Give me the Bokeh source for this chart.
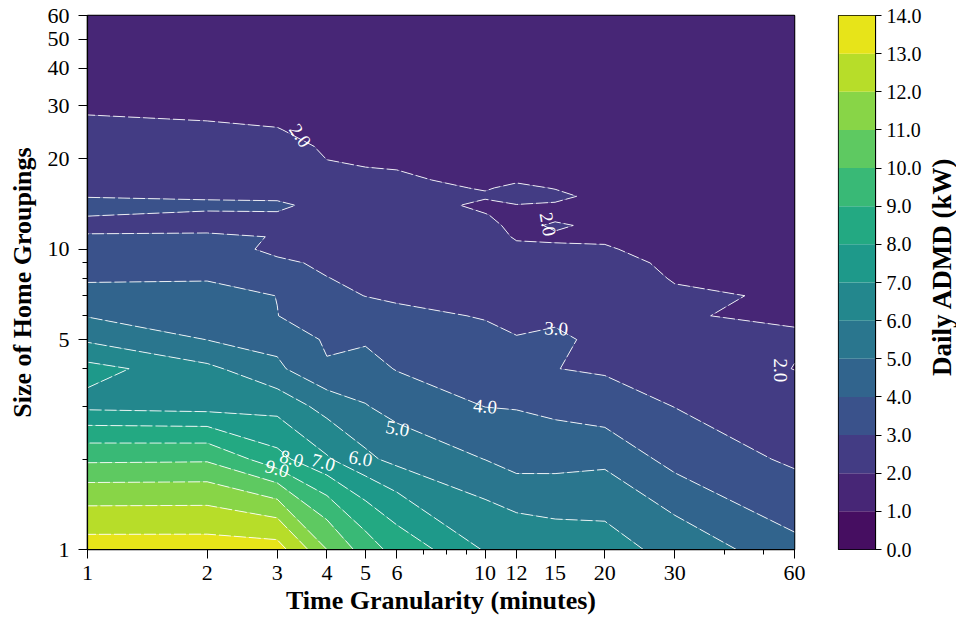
import numpy as np
from bokeh.plotting import figure
from bokeh.models import Range1d, FixedTicker, PrintfTickFormatter
from bokeh.layouts import row
from bokeh.palettes import Viridis256
from bokeh.core.properties import value
from bokeh.embed import file_html
from bokeh.resources import INLINE

# ---------------- data ----------------
x_minutes = [1, 2, 3, 4, 5, 6, 10, 12, 15, 20, 30, 60]
y_groups = [1, 2, 3, 4, 5, 6, 7, 8, 9, 10, 11, 12, 13, 14, 15, 16, 17, 20, 22, 25, 30, 40, 60]

# Daily ADMD (kW) for each time granularity, one value per group size in y_groups
admd_1min = [13.45, 9.8, 6.75, 7.3, 5.85, 4.95, 4.3, 3.9, 3.55, 3.3, 3.05, 2.85, 3.02, 3.3, 2.96, 2.85, 2.75, 2.5, 2.35, 2.15, 1.9, 1.7, 1.5]
admd_2min = [13.45, 9.85, 6.6, 6.2, 4.98, 4.6, 4.25, 3.95, 3.65, 3.35, 3.12, 2.75, 2.9, 3.15, 2.9, 2.8, 2.7, 2.45, 2.3, 2.08, 1.85, 1.65, 1.45]
admd_3min = [13.4, 8.3, 6.63, 5.17, 4.73, 4.01, 3.99, 3.5, 3.15, 2.8, 2.97, 2.75, 2.95, 3.1, 2.9, 2.75, 2.65, 2.4, 2.25, 2.02, 1.8, 1.6, 1.45]
admd_4min = [11.0, 7.1, 5.6, 4.1, 3.85, 3.6, 3.3, 3.02, 2.85, 2.7, 2.6, 2.5, 2.55, 2.8, 2.45, 2.3, 2.2, 1.99, 1.9, 1.8, 1.7, 1.55, 1.4]
admd_5min = [9.5, 6.2, 5.05, 4.3, 3.9, 3.5, 2.98, 2.8, 2.7, 2.6, 2.5, 2.42, 2.38, 2.33, 2.27, 2.18, 2.1, 1.93, 1.87, 1.8, 1.7, 1.55, 1.4]
admd_6min = [8.6, 5.7, 4.6, 3.95, 3.5, 3.15, 2.9, 2.75, 2.62, 2.52, 2.42, 2.33, 2.25, 2.2, 2.16, 2.1, 2.05, 1.94, 1.88, 1.8, 1.7, 1.55, 1.4]
admd_10min = [6.9, 4.98, 3.98, 3.6, 3.2, 2.95, 2.8, 2.65, 2.5, 2.35, 2.2, 2.1, 2.02, 1.9, 2.05, 1.97, 1.9, 1.8, 1.75, 1.7, 1.6, 1.5, 1.4]
admd_12min = [6.7, 4.55, 3.95, 3.5, 3.05, 2.75, 2.55, 2.4, 2.25, 2.1, 1.95, 1.9, 1.85, 1.99, 2.1, 2.08, 1.95, 1.8, 1.75, 1.7, 1.6, 1.5, 1.4]
admd_15min = [6.5, 4.6, 3.75, 3.01, 3.2, 2.8, 2.55, 2.4, 2.2, 2.05, 1.95, 2.05, 1.9, 1.95, 2.1, 1.98, 1.9, 1.8, 1.75, 1.7, 1.6, 1.5, 1.4]
admd_20min = [6.4, 4.75, 3.39, 2.9, 2.7, 2.55, 2.4, 2.2, 2.15, 2.03, 1.95, 1.9, 1.85, 1.85, 1.85, 1.8, 1.78, 1.75, 1.72, 1.65, 1.55, 1.45, 1.4]
admd_30min = [5.6, 3.6, 2.98, 2.5, 2.15, 2.03, 2.06, 1.97, 1.9, 1.85, 1.82, 1.8, 1.8, 1.78, 1.78, 1.76, 1.75, 1.7, 1.67, 1.6, 1.5, 1.42, 1.35]
admd_60min = [4.2, 2.8, 2.5, 1.98, 2.1, 1.9, 1.94, 1.85, 1.8, 1.78, 1.76, 1.75, 1.74, 1.72, 1.7, 1.68, 1.66, 1.6, 1.57, 1.52, 1.47, 1.4, 1.3]

levels = [0, 1, 2, 3, 4, 5, 6, 7, 8, 9, 10, 11, 12, 13, 14]

x_ticks = [1, 2, 3, 4, 5, 6, 10, 12, 15, 20, 30, 60]
x_minor = [7, 8, 9, 40, 50]
y_ticks = [1, 5, 10, 20, 30, 40, 50, 60]
y_minor = [2, 3, 4, 6, 7, 8, 9]

# inline contour labels
label_text = ["2.0", "2.0", "2.0", "3.0", "4.0", "5.0", "6.0", "7.0", "8.0", "9.0"]
label_x = [3.43, 14.4, 55.3, 15.1, 10.0, 6.02, 4.86, 3.92, 3.26, 3.0]
label_y = [23.9, 12.1, 3.95, 5.45, 3.0, 2.53, 2.01, 1.95, 2.01, 1.86]
label_angle = [-55, -80, -90, -3, -5, -10, -10, -15, -15, -15]

colorbar_title = "Daily ADMD (kW)"

# ---------------- build ----------------
Z = np.column_stack([admd_1min, admd_2min, admd_3min, admd_4min, admd_5min, admd_6min,
                     admd_10min, admd_12min, admd_15min, admd_20min, admd_30min, admd_60min])

nb = len(levels) - 1
band_colors = [Viridis256[min(255, int((i + 0.5) / nb * 256))] for i in range(nb)]

FONT = "Liberation Serif"

p = figure(width=820, height=628, x_axis_type="log", y_axis_type="log",
           x_range=Range1d(1, 60), y_range=Range1d(1, 60),
           output_backend="svg", toolbar_location=None,
           min_border_left=87, min_border_right=26, min_border_top=15, min_border_bottom=79)

p.contour(x=x_minutes, y=y_groups, z=Z, levels=levels,
          fill_color=band_colors, line_color="white", line_width=0.9,
          line_dash="12 3", line_alpha=0.95)

p.text(x=label_x, y=label_y, text=label_text, angle=label_angle, angle_units="deg",
       text_color="white", text_font=value(FONT), text_font_size="19px",
       text_align="center", text_baseline="middle")

p.grid.visible = False
p.outline_line_color = "black"
p.outline_line_width = 1.5

for ax in (p.xaxis[0], p.yaxis[0]):
    ax.axis_line_color = "black"
    ax.axis_line_width = 1.2
    ax.major_tick_out = 9
    ax.major_tick_in = 0
    ax.minor_tick_out = 5
    ax.minor_tick_in = 0
    ax.major_tick_line_color = "black"
    ax.minor_tick_line_color = "black"
    ax.major_label_text_font = FONT
    ax.major_label_text_font_size = "22px"
    ax.major_label_text_color = "black"
    ax.axis_label_text_font = FONT
    ax.axis_label_text_font_style = "bold"
    ax.axis_label_text_font_size = "26px"
    ax.axis_label_text_color = "black"
    ax.formatter = PrintfTickFormatter(format="%d")

p.xaxis.ticker = FixedTicker(ticks=x_ticks, minor_ticks=x_minor)
p.yaxis.ticker = FixedTicker(ticks=y_ticks, minor_ticks=y_minor)
p.xaxis.axis_label = "Time Granularity (minutes)"
p.yaxis.axis_label = "Size of Home Groupings"
p.xaxis.major_label_standoff = 7
p.yaxis.major_label_standoff = 9
p.xaxis.axis_label_standoff = 3
p.yaxis.axis_label_standoff = 8

# ---------------- colour bar ----------------
cb = figure(width=105, height=628, x_range=Range1d(0, 1), y_range=Range1d(levels[0], levels[-1]),
            y_axis_location="right", output_backend="svg", toolbar_location=None,
            min_border_left=18, min_border_right=50, min_border_top=15, min_border_bottom=79)
cb.quad(left=0, right=1, bottom=levels[:-1], top=levels[1:], fill_color=band_colors, line_color=None)
cb.xaxis.visible = False
cb.grid.visible = False
cb.outline_line_color = "black"
cb.outline_line_width = 1.2
ya = cb.yaxis[0]
ya.ticker = FixedTicker(ticks=levels, minor_ticks=[])
ya.formatter = PrintfTickFormatter(format="%.1f")
ya.axis_line_color = "black"
ya.major_tick_out = 6
ya.major_tick_in = 0
ya.minor_tick_out = 0
ya.major_label_standoff = 5
ya.major_label_text_font = FONT
ya.major_label_text_font_size = "20px"
ya.major_label_text_color = "black"

# ---------------- colour bar title (own narrow panel) ----------------
tp = figure(width=31, height=628, x_range=Range1d(0, 1), y_range=Range1d(0, 1),
            x_axis_location=None, y_axis_location=None,
            output_backend="svg", toolbar_location=None,
            min_border_left=0, min_border_right=0, min_border_top=0, min_border_bottom=0)
tp.grid.visible = False
tp.outline_line_color = None
tp.text(x=[0.52], y=[0.53], text=[colorbar_title], angle=90, angle_units="deg",
        text_color="black", text_font=value(FONT), text_font_style="bold",
        text_font_size="27px", text_align="center", text_baseline="middle")

layout = row(p, cb, tp)
open("out.html", "w").write(file_html(layout, INLINE))
